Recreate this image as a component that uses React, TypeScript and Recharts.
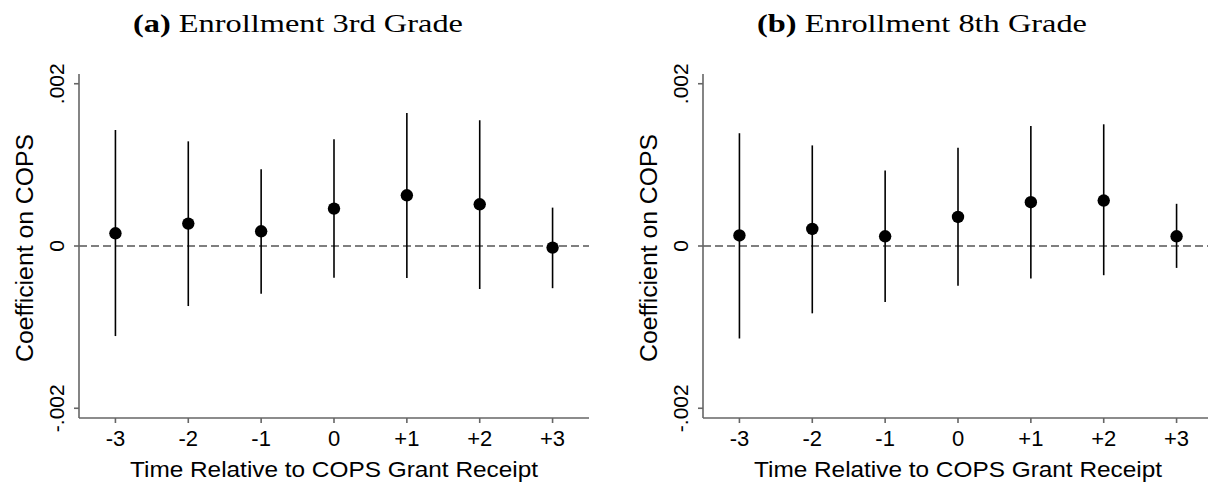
import { ScatterChart, Scatter, XAxis, YAxis, ErrorBar, ReferenceLine, Label } from 'recharts'

// event time relative to the grant
const PERIODS = [-3, -2, -1, 0, 1, 2, 3]
const PERIOD_LABELS = ['-3', '-2', '-1', '0', '+1', '+2', '+3']
const Y_TICKS = [-0.002, 0, 0.002]
const Y_TICK_LABELS = ['-.002', '0', '.002']

// (a) 3rd grade enrollment: point estimate + 95% CI bounds
const GRADE3_COEF = [0.000157, 0.000276, 0.000181, 0.000461, 0.000625, 0.000514, -0.00002]
const GRADE3_LOW = [-0.00111, -0.00074, -0.00059, -0.00039, -0.000395, -0.00053, -0.00052]
const GRADE3_HIGH = [0.00143, 0.00129, 0.000945, 0.001316, 0.00164, 0.00155, 0.000473]

// (b) 8th grade enrollment
const GRADE8_COEF = [0.00013, 0.00021, 0.00012, 0.000358, 0.00054, 0.00056, 0.00012]
const GRADE8_LOW = [-0.00114, -0.00083, -0.00069, -0.00049, -0.0004, -0.00036, -0.00027]
const GRADE8_HIGH = [0.00139, 0.00124, 0.00093, 0.00121, 0.00148, 0.0015, 0.00052]

const SANS = '"Liberation Sans", Arial, Helvetica, sans-serif'
const SERIF = '"Liberation Serif", "Times New Roman", serif'
const AXIS_GREY = '#666'

type Row = { t: number; coef: number; ci: [number, number] }

function buildRows(coef: number[], low: number[], high: number[]): Row[] {
  return PERIODS.map((t, i) => ({ t, coef: coef[i], ci: [coef[i] - low[i], high[i] - coef[i]] }))
}

function Dot(props: any) {
  return <circle cx={props.cx} cy={props.cy} r={6.2} fill="#000" />
}

function YTick(props: any) {
  const { x, y, payload } = props
  const idx = Y_TICKS.indexOf(payload.value)
  return (
    <text
      x={x}
      y={y}
      transform={`rotate(-90 ${x} ${y})`}
      textAnchor="middle"
      fontFamily={SANS}
      fontSize={21}
      fill="#000"
    >
      {idx >= 0 ? Y_TICK_LABELS[idx] : payload.value}
    </text>
  )
}

function Panel({ tag, title, rows, left }: { tag: string; title: string; rows: Row[]; left: number }) {
  return (
    <div style={{ position: 'absolute', left, top: 0, width: 604, height: 489 }}>
      <ScatterChart width={604} height={489} margin={{ top: 74, right: 15, bottom: 0, left: 0 }}>
        <XAxis
          type="number"
          dataKey="t"
          domain={[-3.5, 3.5]}
          ticks={PERIODS}
          interval={0}
          allowDataOverflow
          height={71}
          stroke={AXIS_GREY}
          strokeWidth={1.6}
          tickSize={5}
          tickMargin={7}
          tick={{ fill: '#000', fontSize: 22, fontFamily: SANS }}
          tickFormatter={(v: number) => PERIOD_LABELS[PERIODS.indexOf(v)]}
        >
          <Label
            content={(p: any) => {
              const vb = p.viewBox
              return (
                <text
                  x={vb.x + vb.width / 2}
                  y={vb.y + 59}
                  textAnchor="middle"
                  fontFamily={SANS}
                  fontSize={22}
                  textLength={408}
                  lengthAdjust="spacingAndGlyphs"
                  fill="#000"
                >
                  Time Relative to COPS Grant Receipt
                </text>
              )
            }}
          />
        </XAxis>
        <YAxis
          type="number"
          dataKey="coef"
          domain={[-0.00212, 0.00212]}
          ticks={Y_TICKS}
          interval={0}
          allowDataOverflow
          width={79}
          stroke={AXIS_GREY}
          strokeWidth={1.6}
          tickSize={5}
          tickMargin={10}
          tick={<YTick />}
        >
          <Label
            content={(p: any) => {
              const vb = p.viewBox
              const cx = 33
              const cy = vb.y + vb.height / 2 + 2
              return (
                <text
                  x={cx}
                  y={cy}
                  transform={`rotate(-90 ${cx} ${cy})`}
                  textAnchor="middle"
                  fontFamily={SANS}
                  fontSize={23}
                  textLength={228}
                  lengthAdjust="spacingAndGlyphs"
                  fill="#000"
                >
                  Coefficient on COPS
                </text>
              )
            }}
          />
        </YAxis>
        <ReferenceLine y={0} stroke="#555" strokeWidth={1.5} strokeDasharray="8 4" />
        <Scatter data={rows} fill="#000" shape={<Dot />} isAnimationActive={false}>
          <ErrorBar dataKey="ci" direction="y" width={0} stroke="#000" strokeWidth={1.6} />
        </Scatter>
      </ScatterChart>
      <svg width={604} height={50} style={{ position: 'absolute', left: 0, top: 0 }}>
        <text
          x={298}
          y={32}
          textAnchor="middle"
          fontFamily={SERIF}
          fontSize={25}
          textLength={330}
          lengthAdjust="spacingAndGlyphs"
          fill="#000"
        >
          <tspan fontWeight="bold">({tag})</tspan>
          {' '}
          {title}
        </text>
      </svg>
    </div>
  )
}

export default function App() {
  return (
    <div
      style={{
        position: 'absolute',
        left: 0,
        top: 0,
        width: 1208,
        height: 489,
        overflow: 'hidden',
        background: '#fff',
      }}
    >
      <Panel tag="a" title="Enrollment 3rd Grade" rows={buildRows(GRADE3_COEF, GRADE3_LOW, GRADE3_HIGH)} left={0} />
      <Panel tag="b" title="Enrollment 8th Grade" rows={buildRows(GRADE8_COEF, GRADE8_LOW, GRADE8_HIGH)} left={624} />
    </div>
  )
}
